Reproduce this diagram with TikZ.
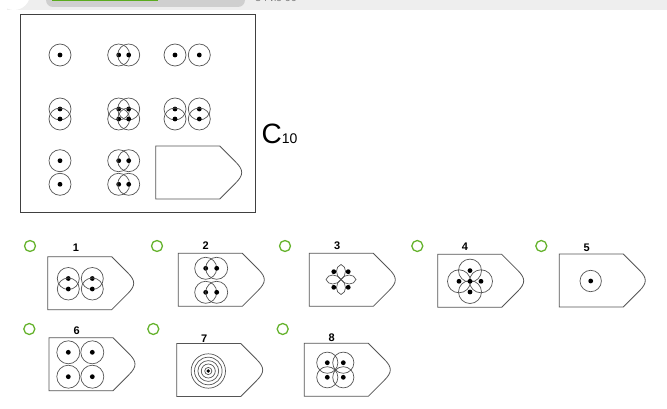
\documentclass[tikz,border=0pt]{standalone}
\usepackage{fontspec}
\setmainfont{Liberation Sans}
\definecolor{ringc}{HTML}{555555}
\definecolor{radioc}{HTML}{66B32E}
\definecolor{barbg}{HTML}{EEEEEE}
\definecolor{progbg}{HTML}{CFCFCF}
\definecolor{proggreen}{HTML}{5AAB1E}
\tikzset{
  ring/.style={draw=ringc, line width=0.7pt},
  dotc/.style={fill=black, draw=none},
  shapeline/.style={draw=ringc, line width=0.8pt},
  radio/.style={draw=radioc, line width=1.3pt, circle, minimum size=11pt, inner sep=0pt},
  optlabel/.style={font=\fontsize{11}{11}\selectfont\bfseries, inner sep=0pt},
  pent/.pic={\draw[shapeline] (0,0) -- (64,0) -- (80,16) .. controls (88,24) and (88,29) .. (80,37) -- (64,53) -- (0,53) -- cycle;}
}
\newcommand\ringdot[2][11]{\draw[ring] (#2) circle (#1); \fill[dotc] (#2) circle (2.4);}
\begin{document}
\begin{tikzpicture}[x=1pt,y=-1pt]
\useasboundingbox (0,0) rectangle (667,409);
\fill[white] (0,0) rectangle (667,409);
% top UI strip (cropped)
\begin{scope}
\clip (0,0) rectangle (667,409);
\fill[barbg] (7,-5) rectangle (667,10.5);
\fill[white] (14,-6) circle (16);
\node[font=\fontsize{11}{11}\selectfont, text=black!70, anchor=base] (num) at (15,-0.5) {34};
\fill[progbg, rounded corners=7pt] (46,-12) rectangle (245,7);
\fill[proggreen] (52,-12) rectangle (158,1.5);
\node[font=\fontsize{11}{11}\selectfont, text=black!50, anchor=base west, inner sep=0pt] (cnt) at (255,1.5) {34 из 60};
\end{scope}
% main matrix box
\draw[draw=black!75, line width=1pt] (20,15) rectangle (255,212);
% row 1
\ringdot{60,55}
\ringdot{118.7,55}\ringdot{128.7,55}
\ringdot{175,55}\ringdot{199.3,55}
% row 2
\ringdot{60,109}\ringdot{60,119}
\ringdot{118.7,109}\ringdot{128.7,109}\ringdot{118.7,119}\ringdot{128.7,119}
\ringdot{175,109}\ringdot{175,119}\ringdot{199.3,109}\ringdot{199.3,119}
% row 3
\ringdot{60,160.7}\ringdot{60,184.3}
\ringdot{118.7,160.7}\ringdot{128.7,160.7}\ringdot{118.7,184.3}\ringdot{128.7,184.3}
\pic at (155.7,146) {pent};
% C10
\node[anchor=base west, inner sep=0pt, font=\fontsize{28}{28}\selectfont] (C) at (261.5,144) {C\fontsize{14}{14}\selectfont 10};
% radios
\foreach \x/\y [count=\i] in {30/246,157/246,285/246,417.3/246,541.3/246,29.3/329,153.3/329,282.7/329}
  \node[radio] (r\i) at (\x,\y) {};
% labels
\foreach \x/\y/\t in {76/248/1,205.7/246/2,337.3/246/3,465/246.7/4,586.7/247.7/5,76.7/331/6,204.3/338.3/7,331.7/337.7/8}
  \node[optlabel] (l\t) at (\x,\y) {\t};
% option shapes
\pic at (47.7,256.7) {pent};
\pic at (178.3,253.3) {pent};
\pic at (309.3,253.3) {pent};
\pic at (437.7,254.3) {pent};
\pic at (559.3,254) {pent};
\pic at (49,337.7) {pent};
\pic at (176.7,343.5) {pent};
\pic at (304.3,343.3) {pent};
% option 1
\ringdot{68.3,278.5}\ringdot{68.3,289}\ringdot{92.3,278.5}\ringdot{92.3,289}
% option 2
\ringdot{205.7,268.3}\ringdot{216.7,268.3}\ringdot{205.7,292.3}\ringdot{216.7,292.3}
% option 3 flower
\begin{scope}[shift={(341,279.5)}]
  \foreach \a in {0,90,180,270}
    \draw[ring, rotate=\a] (0,0) .. controls (6,-4) and (6,-13) .. (0,-15) .. controls (-6,-13) and (-6,-4) .. (0,0);
  \foreach \dx/\dy in {-7.2/-7.8,7.2/-7.8,-7.2/7.8,7.2/7.8}
    \fill[dotc] (\dx,\dy) circle (2.4);
\end{scope}
% option 4
\ringdot[11.5]{470,270.6}\ringdot[11.5]{470,292}\ringdot[11.5]{459,281.3}\ringdot[11.5]{481,281.3}
\fill[dotc] (470,281.3) circle (2.4);
% option 5
\ringdot[10.7]{590.7,281}
% option 6
\ringdot[11.5]{68.3,352.3}\ringdot[11.5]{92.3,352.3}\ringdot[11.5]{68.3,376.7}\ringdot[11.5]{92.3,376.7}
% option 7
\foreach \r in {3.6,7,10.4,13.8,17.2} \draw[ring] (208.3,371) circle (\r);
\fill[dotc] (208.3,371) circle (1.9);
% option 8
\ringdot[10.6]{327.3,362.7}\ringdot[10.6]{343.3,362.7}\ringdot[10.6]{327.3,377.3}\ringdot[10.6]{343.3,377.3}
\end{tikzpicture}
\end{document}
